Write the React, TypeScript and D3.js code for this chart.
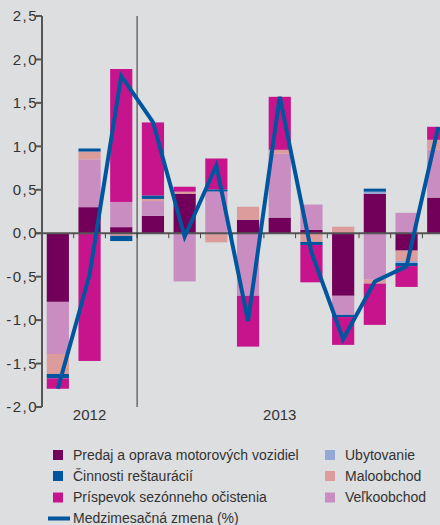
import React, { useEffect, useRef } from "react";
import * as d3 from "d3";

// months shown (Oct 2012 - Oct 2013)
const months = [
  "10/2012", "11/2012", "12/2012", "01/2013", "02/2013", "03/2013", "04/2013",
  "05/2013", "06/2013", "07/2013", "08/2013", "09/2013", "10/2013",
];

// contributions, p.b.
const predaj = [-0.79, 0.3, 0.07, 0.2, 0.455, -0.01, 0.155, 0.18, 0.04, -0.72, 0.455, -0.2, 0.41];
const velkoobchod = [-0.6, 0.55, 0.29, 0.17, -0.555, 0.48, -0.72, 0.735, 0.29, -0.22, -0.535, 0.235, 0.55];
const maloobchod = [-0.23, 0.09, -0.03, 0.025, 0.023, -0.095, 0.15, 0.045, -0.1, 0.075, -0.045, -0.12, 0.115];
const ubytovanie = [0, 0, 0, 0, 0, 0, 0, 0, 0, 0, 0.023, -0.023, 0];
const restauracie = [-0.05, 0.035, -0.06, 0.04, 0, 0.025, 0, 0, -0.035, -0.025, 0.035, -0.035, 0];
const prispevok = [-0.12, -1.47, 1.53, 0.84, 0.057, 0.355, -0.585, 0.61, -0.43, -0.32, -0.475, -0.24, 0.15];

// month-on-month change (%)
const zmena = [-1.79, -0.48, 1.81, 1.28, -0.04, 0.78, -1.01, 1.57, -0.22, -1.22, -0.555, -0.38, 1.22];

const yTicks = [-2, -1.5, -1, -0.5, 0, 0.5, 1, 1.5, 2, 2.5];
const years = [
  { label: "2012", month: "11/2012" },
  { label: "2013", month: "05/2013" },
];
const yearBreak = "01/2013";

const series = [
  { key: "predaj", name: "Predaj a oprava motorových vozidiel", values: predaj, color: "#72005a" },
  { key: "velkoobchod", name: "Veľkoobchod", values: velkoobchod, color: "#c98dc1" },
  { key: "maloobchod", name: "Maloobchod", values: maloobchod, color: "#dc9c9c" },
  { key: "ubytovanie", name: "Ubytovanie", values: ubytovanie, color: "#93a8d4" },
  { key: "restauracie", name: "Činnosti reštaurácií", values: restauracie, color: "#00559f" },
  { key: "prispevok", name: "Príspevok sezónneho očistenia", values: prispevok, color: "#c8148c" },
];
const legendLeft = ["predaj", "restauracie", "prispevok"];
const legendRight = ["ubytovanie", "maloobchod", "velkoobchod"];
const lineName = "Medzimesačná zmena (%)";
const lineColor = "#00559f";

const W = 440;
const H = 525;
const FONT = "'Liberation Sans', Arial, sans-serif";

const App = () => {
  const svgRef = useRef<SVGSVGElement>(null);

  useEffect(() => {
    const svg = d3.select(svgRef.current);
    svg.selectAll("*").remove();

    const left = 42;
    const top = 16;
    const bottom = 407;
    const step = 31.7;

    svg.append("rect").attr("width", W).attr("height", H).attr("fill", "#dcdee0");

    const x = d3
      .scaleBand()
      .domain(months)
      .range([left, left + months.length * step])
      .paddingInner(0.3)
      .paddingOuter(0.15);

    const y = d3.scaleLinear().domain([-2, 2.5]).range([bottom, top]);

    const rows = months.map((m, i) => {
      const r: any = { month: m };
      series.forEach((s) => (r[s.key] = s.values[i]));
      return r;
    });

    const stack = d3
      .stack()
      .keys(series.map((s) => s.key))
      .offset(d3.stackOffsetDiverging);
    const stacked = stack(rows);

    const g = svg.append("g");
    stacked.forEach((layer, li) => {
      g.selectAll(null)
        .data(layer)
        .enter()
        .append("rect")
        .attr("x", (d: any) => x(d.data.month)!)
        .attr("width", x.bandwidth())
        .attr("y", (d) => y(Math.max(d[0], d[1])))
        .attr("height", (d) => Math.abs(y(d[0]) - y(d[1])))
        .attr("fill", series[li].color);
    });

    const gap = (x.step() - x.bandwidth()) / 2;
    const boundaries = months
      .map((m) => x(m)! - gap)
      .concat([x(months[months.length - 1])! + x.bandwidth() + gap]);

    // zero line + ticks
    svg
      .append("line")
      .attr("x1", left - 6)
      .attr("x2", W)
      .attr("y1", y(0))
      .attr("y2", y(0))
      .attr("stroke", "#555")
      .attr("stroke-width", 2);

    svg
      .selectAll(".xtick")
      .data(boundaries)
      .enter()
      .append("line")
      .attr("x1", (d) => d)
      .attr("x2", (d) => d)
      .attr("y1", y(0))
      .attr("y2", y(0) + 5)
      .attr("stroke", "#444")
      .attr("stroke-width", 1);

    // y axis
    svg
      .append("line")
      .attr("x1", left)
      .attr("x2", left)
      .attr("y1", y(2.5))
      .attr("y2", y(-2))
      .attr("stroke", "#555")
      .attr("stroke-width", 2);

    svg
      .selectAll(".ytick")
      .data(yTicks)
      .enter()
      .append("line")
      .attr("x1", left - 6)
      .attr("x2", left)
      .attr("y1", (d) => y(d))
      .attr("y2", (d) => y(d))
      .attr("stroke", "#555")
      .attr("stroke-width", 2);

    svg
      .selectAll(".ylabel")
      .data(yTicks)
      .enter()
      .append("text")
      .attr("x", left - 4)
      .attr("y", (d) => y(d))
      .attr("dy", "0.35em")
      .attr("text-anchor", "end")
      .style("font-family", FONT)
      .style("font-size", "15px")
      .style("letter-spacing", "1.5px")
      .style("fill", "#333")
      .text((d) => d.toFixed(1).replace(".", ","));

    // year separator
    const sepX = x(yearBreak)! - gap;
    svg
      .append("line")
      .attr("x1", sepX)
      .attr("x2", sepX)
      .attr("y1", y(2.5))
      .attr("y2", y(-2))
      .attr("stroke", "#333")
      .attr("stroke-width", 1);

    svg
      .selectAll(".year")
      .data(years)
      .enter()
      .append("text")
      .attr("x", (d) => x(d.month)! + x.bandwidth() / 2)
      .attr("y", bottom + 13)
      .attr("text-anchor", "middle")
      .style("font-family", FONT)
      .style("font-size", "15px")
      .style("fill", "#333")
      .text((d) => d.label);

    // line
    const line = d3
      .line<number>()
      .x((_, i) => x(months[i])! + x.bandwidth() / 2)
      .y((d) => y(d));

    svg
      .append("path")
      .datum(zmena)
      .attr("d", line)
      .attr("fill", "none")
      .attr("stroke", lineColor)
      .attr("stroke-width", 4);

    // legend
    const legend = svg.append("g");
    const rowY = [455, 476, 497.5];
    const addItem = (key: string, col: number, row: number) => {
      const s = series.find((d) => d.key === key)!;
      const sx = col === 0 ? 53 : 325;
      legend
        .append("rect")
        .attr("x", sx)
        .attr("y", rowY[row] - 5)
        .attr("width", 10)
        .attr("height", 10)
        .attr("fill", s.color);
      legend
        .append("text")
        .attr("x", sx + 20)
        .attr("y", rowY[row])
        .attr("dy", "0.35em")
        .style("font-family", FONT)
        .style("font-size", "14px")
        .style("fill", "#333")
        .text(s.name);
    };
    legendLeft.forEach((k, i) => addItem(k, 0, i));
    legendRight.forEach((k, i) => addItem(k, 1, i));

    legend
      .append("line")
      .attr("x1", 48)
      .attr("x2", 70)
      .attr("y1", 518.5)
      .attr("y2", 518.5)
      .attr("stroke", lineColor)
      .attr("stroke-width", 4);
    legend
      .append("text")
      .attr("x", 73)
      .attr("y", 518)
      .attr("dy", "0.35em")
      .style("font-family", FONT)
      .style("font-size", "14px")
      .style("fill", "#333")
      .text(lineName);
  }, []);

  return (
    <svg
      ref={svgRef}
      width={W}
      height={H}
      style={{ position: "absolute", left: 0, top: 0, display: "block" }}
    />
  );
};

export default App;
